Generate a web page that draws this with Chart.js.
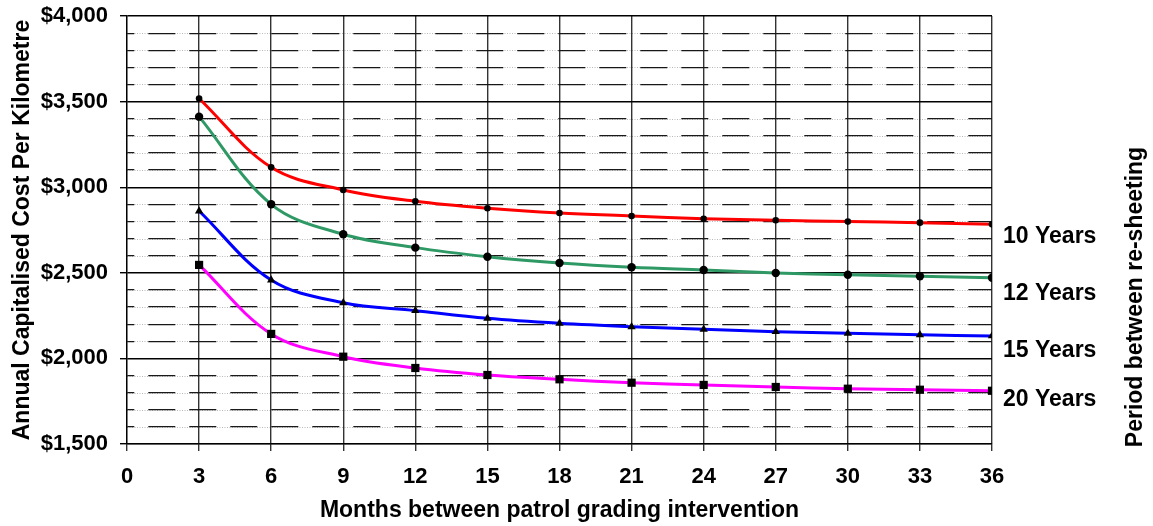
<!DOCTYPE html>
<html>
<head>
<meta charset="utf-8">
<script src="https://cdn.jsdelivr.net/npm/chart.js@4/dist/chart.umd.min.js"></script>
<style>
  html, body { margin: 0; padding: 0; background: #fff; }
  canvas { display: block; }
</style>
</head>
<body>
<canvas id="c" width="1153" height="526"></canvas>
<script>
// ---- data ----
const months = [3, 6, 9, 12, 15, 18, 21, 24, 27, 30, 33, 36];
const years10 = [3518, 3116, 2984, 2918, 2877, 2849, 2832, 2816, 2807, 2799, 2793, 2783];
const years12 = [3412, 2900, 2725, 2647, 2594, 2557, 2532, 2516, 2499, 2489, 2480, 2471];
const years15 = [2861, 2458, 2325, 2279, 2234, 2205, 2185, 2170, 2156, 2147, 2138, 2131];
const years20 = [2546, 2143, 2010, 1944, 1903, 1878, 1858, 1845, 1833, 1823, 1817, 1811];
const seriesLabels = ['10 Years', '12 Years', '15 Years', '20 Years'];
const xTitle = 'Months between patrol grading intervention';
const yTitle = 'Annual Capitalised Cost Per Kilometre';
const rightTitle = 'Period between re-sheeting';

const FONT = '"Liberation Sans", Arial, Helvetica, sans-serif';
Chart.defaults.font.family = FONT;
Chart.defaults.font.size = 22;
Chart.defaults.font.weight = 'bold';
Chart.defaults.color = '#000';

const toPts = arr => arr.map((v, i) => ({ x: months[i], y: v }));
const isMajor = c => c.tick && c.tick.value % 500 === 0;

// styling (label offset = pixels below the series' last point)
const styles = [
  { color: '#FF0000', pointStyle: 'circle', r: 3.3, labelDy: 12 },
  { color: '#2E9964', pointStyle: 'circle', r: 4.2, labelDy: 16 },
  { color: '#0000FF', pointStyle: 'triangle', r: 4.8, labelDy: 15 },
  { color: '#FF00FF', pointStyle: 'rect', r: 5.8, labelDy: 9 }
];
const series = [years10, years12, years15, years20];

const datasets = series.map((arr, i) => ({
  label: seriesLabels[i],
  data: toPts(arr),
  borderColor: styles[i].color,
  borderWidth: 3,
  backgroundColor: '#000',
  pointBackgroundColor: '#000',
  pointBorderColor: '#000',
  pointBorderWidth: 0,
  pointStyle: styles[i].pointStyle,
  pointRadius: styles[i].r,
  tension: 0.36,
  fill: false
}));

const annotatePlugin = {
  id: 'annot',
  beforeDatasetsDraw(chart) {
    const { ctx, chartArea, scales } = chart;
    const y = scales.y;
    ctx.save();
    ctx.strokeStyle = 'rgba(0,0,0,0.28)';
    ctx.lineWidth = 1;
    ctx.setLineDash([1, 1.5]);
    y.ticks.forEach(t => {
      if (t.value % 500 === 0) return;
      const py = Math.round(y.getPixelForValue(t.value)) + 0.5;
      ctx.beginPath();
      ctx.moveTo(chartArea.left, py);
      ctx.lineTo(chartArea.right, py);
      ctx.stroke();
    });
    ctx.restore();
  },
  afterDatasetsDraw(chart) {
    const { ctx, chartArea } = chart;
    ctx.save();
    ctx.fillStyle = '#000';
    ctx.font = 'bold 23px ' + FONT;
    ctx.textAlign = 'left';
    ctx.textBaseline = 'middle';
    chart.data.datasets.forEach((ds, i) => {
      const meta = chart.getDatasetMeta(i);
      const last = meta.data[meta.data.length - 1];
      ctx.fillText(ds.label, chartArea.right + 11, last.y + styles[i].labelDy);
    });
    ctx.translate(chartArea.right + 144, (chartArea.top + chartArea.bottom) / 2 + 67);
    ctx.rotate(-Math.PI / 2);
    ctx.textAlign = 'center';
    ctx.fillText(rightTitle, 0, 0);
    ctx.restore();
  }
};

new Chart(document.getElementById('c'), {
  type: 'line',
  data: { datasets },
  options: {
    responsive: false,
    animation: false,
    events: [],
    layout: { padding: { left: 0, top: 16, right: 161, bottom: 0 } },
    plugins: { legend: { display: false }, tooltip: { enabled: false } },
    scales: {
      x: {
        type: 'linear',
        min: 0,
        max: 36,
        afterFit(s) { s.height = 82; },
        ticks: { stepSize: 3, padding: 13, maxRotation: 0, autoSkip: false },
        grid: { color: '#333', lineWidth: 1.4, tickLength: 7, tickColor: '#333' },
        border: { color: '#000', width: 1.3 },
        title: { display: true, text: xTitle, font: { size: 23 }, padding: { top: 0, bottom: 2 } }
      },
      y: {
        type: 'linear',
        min: 1500,
        max: 4000,
        afterFit(s) { s.width = 127; s.paddingTop = 0; s.paddingBottom = 0; },
        ticks: {
          stepSize: 100,
          autoSkip: false,
          padding: 12,
          callback: v => (v % 500 === 0 ? '$' + v.toLocaleString('en-US') : '')
        },
        grid: {
          color: c => (isMajor(c) ? '#000' : '#1a1a1a'),
          lineWidth: c => (isMajor(c) ? 1.4 : 1.2),
          tickLength: 7,
          tickColor: c => (isMajor(c) ? '#000' : 'rgba(0,0,0,0)')
        },
        border: {
          color: '#000',
          width: 1.3,
          dash: c => (c.tick && !isMajor(c) ? [27, 14] : []),
          dashOffset: c => (c.tick && !isMajor(c) ? 20 : 0)
        },
        title: { display: true, text: yTitle, font: { size: 23 }, padding: { top: 9, bottom: 0 } }
      }
    }
  },
  plugins: [annotatePlugin]
});
</script>
</body>
</html>
